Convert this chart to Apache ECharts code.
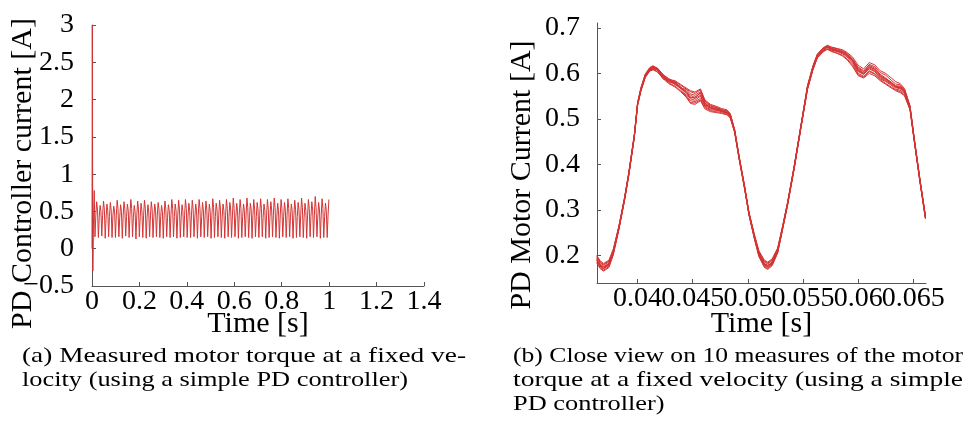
<!DOCTYPE html>
<html>
<head>
<meta charset="utf-8">
<script src="https://cdn.jsdelivr.net/npm/echarts@6/dist/echarts.min.js"></script>
<style>html,body{margin:0;padding:0;background:#fff;}#c{width:968px;height:436px;}</style>
</head>
<body>
<div id="c"></div>
<script>
// ---------- Panel (a): full run ----------
const leftHeadT = [0, 0.0012, 0.0035, 0.0065, 0.0095];
const leftHeadV = [0.0, 3.0, -0.3, 0.42, 0.78];
const leftBodyStart = 0.0125;
const leftBodyStep = 0.0036;
// groups of 4 per cycle: min, rise, peak, shoulder
const leftBodyV = [
0.16,0.44,0.63,0.52, 0.15,0.42,0.58,0.50, 0.17,0.45,0.64,0.53, 0.14,0.41,0.60,0.51,
0.16,0.43,0.62,0.52, 0.15,0.44,0.57,0.49, 0.15,0.45,0.65,0.54, 0.16,0.42,0.59,0.50,
0.14,0.44,0.63,0.53, 0.17,0.43,0.60,0.51, 0.15,0.45,0.66,0.54, 0.16,0.42,0.58,0.50,
0.13,0.44,0.64,0.53, 0.16,0.43,0.61,0.51, 0.15,0.45,0.65,0.54, 0.14,0.41,0.59,0.50,
0.16,0.44,0.63,0.52, 0.15,0.42,0.60,0.51, 0.16,0.45,0.62,0.53, 0.15,0.43,0.58,0.50,
0.14,0.44,0.64,0.53, 0.16,0.42,0.59,0.51, 0.15,0.45,0.66,0.54, 0.16,0.43,0.60,0.51,
0.14,0.44,0.65,0.53, 0.15,0.42,0.59,0.50, 0.16,0.45,0.66,0.54, 0.15,0.43,0.61,0.51,
0.15,0.44,0.65,0.53, 0.16,0.42,0.60,0.51, 0.14,0.45,0.66,0.54, 0.16,0.43,0.62,0.52,
0.15,0.44,0.64,0.53, 0.16,0.42,0.60,0.50, 0.14,0.45,0.67,0.55, 0.15,0.43,0.61,0.52,
0.16,0.44,0.65,0.53, 0.15,0.42,0.60,0.51, 0.14,0.45,0.66,0.54, 0.16,0.43,0.62,0.52,
0.15,0.44,0.68,0.54, 0.16,0.42,0.61,0.51, 0.14,0.45,0.66,0.54, 0.15,0.43,0.60,0.51,
0.16,0.45,0.68,0.55, 0.15,0.42,0.61,0.52, 0.14,0.44,0.66,0.53, 0.16,0.43,0.62,0.52,
0.15,0.45,0.67,0.54, 0.16,0.42,0.60,0.51, 0.14,0.44,0.66,0.53, 0.15,0.43,0.63,0.52,
0.16,0.45,0.68,0.55, 0.15,0.42,0.61,0.51, 0.14,0.44,0.66,0.54, 0.16,0.43,0.62,0.52,
0.15,0.45,0.67,0.54, 0.16,0.42,0.60,0.51, 0.14,0.44,0.65,0.53, 0.15,0.43,0.62,0.52,
0.16,0.45,0.68,0.55, 0.15,0.42,0.61,0.51, 0.14,0.44,0.66,0.54, 0.16,0.43,0.63,0.52,
0.15,0.45,0.70,0.55, 0.16,0.42,0.62,0.52, 0.14,0.44,0.67,0.54, 0.15,0.43,0.61,0.51,
0.15,0.44,0.66
];
const leftXTicks = [0, 1.4, 0.2];   // min, max, step
const leftYTicks = [-0.5, 3, 0.5];

// ---------- Panel (b): close view, 10 measures ----------
const rightT = [0.0363,0.0366,0.0369,0.0374,0.0378,0.0383,0.0388,0.0392,0.0397,0.0400,
0.0403,0.0407,0.0411,0.0414,0.0418,0.0423,0.0428,0.0434,0.0439,0.0444,
0.0448,0.0452,0.0457,0.0461,0.0466,0.0471,0.0476,0.0481,0.0484,0.0488,
0.0492,0.0497,0.0501,0.0506,0.0510,0.0515,0.0518,0.0522,0.0527,0.0531,
0.0536,0.0542,0.0548,0.0554,0.0559,0.0563,0.0568,0.0572,0.0576,0.0581,
0.0586,0.0590,0.0595,0.0600,0.0605,0.0610,0.0615,0.0620,0.0625,0.0630,
0.0634,0.0638,0.0642,0.0647,0.0651,0.0656,0.0661];
const measure1 = [0.193,0.181,0.175,0.182,0.208,0.260,0.322,0.379,0.462,0.533,0.565,0.595,0.609,0.613,0.607,0.592,0.583,0.577,0.569,0.560,0.548,0.545,0.552,0.532,0.524,0.522,0.518,0.515,0.508,0.474,0.416,0.350,0.292,0.240,0.204,0.182,0.178,0.185,0.211,0.255,0.314,0.394,0.482,0.569,0.613,0.639,0.652,0.658,0.654,0.650,0.646,0.640,0.628,0.608,0.600,0.612,0.606,0.592,0.586,0.578,0.570,0.568,0.560,0.525,0.452,0.365,0.284];
const measure2 = [0.188,0.176,0.170,0.178,0.205,0.258,0.320,0.377,0.460,0.531,0.562,0.592,0.606,0.609,0.611,0.596,0.586,0.580,0.566,0.552,0.540,0.538,0.545,0.528,0.520,0.519,0.516,0.512,0.505,0.472,0.414,0.348,0.290,0.237,0.200,0.177,0.173,0.181,0.208,0.253,0.312,0.392,0.480,0.566,0.610,0.635,0.648,0.654,0.651,0.648,0.643,0.636,0.622,0.600,0.594,0.606,0.600,0.588,0.582,0.574,0.566,0.563,0.556,0.522,0.450,0.363,0.282];
const measure3 = [0.198,0.186,0.180,0.187,0.212,0.263,0.324,0.381,0.464,0.535,0.568,0.598,0.612,0.616,0.612,0.598,0.588,0.575,0.568,0.565,0.555,0.552,0.560,0.538,0.528,0.525,0.520,0.518,0.510,0.476,0.418,0.352,0.294,0.243,0.208,0.187,0.183,0.190,0.215,0.258,0.316,0.396,0.484,0.572,0.616,0.642,0.655,0.661,0.657,0.654,0.650,0.644,0.632,0.614,0.606,0.618,0.612,0.598,0.590,0.580,0.573,0.572,0.563,0.528,0.454,0.367,0.286];
const measure4 = [0.185,0.173,0.167,0.175,0.203,0.257,0.319,0.376,0.459,0.530,0.563,0.593,0.607,0.610,0.604,0.592,0.580,0.572,0.562,0.550,0.536,0.535,0.542,0.525,0.518,0.516,0.514,0.510,0.503,0.471,0.413,0.347,0.289,0.236,0.198,0.175,0.171,0.179,0.206,0.252,0.311,0.391,0.479,0.565,0.609,0.636,0.649,0.654,0.649,0.645,0.640,0.632,0.618,0.597,0.592,0.604,0.598,0.586,0.578,0.570,0.564,0.560,0.553,0.521,0.449,0.362,0.281];
const measure5 = [0.196,0.184,0.178,0.185,0.210,0.262,0.323,0.380,0.463,0.534,0.566,0.596,0.610,0.614,0.608,0.588,0.584,0.582,0.574,0.566,0.560,0.556,0.564,0.540,0.530,0.526,0.521,0.517,0.511,0.475,0.417,0.351,0.293,0.242,0.206,0.185,0.181,0.188,0.213,0.257,0.315,0.395,0.483,0.570,0.614,0.640,0.653,0.659,0.655,0.652,0.648,0.642,0.630,0.612,0.604,0.620,0.615,0.602,0.596,0.585,0.577,0.575,0.565,0.527,0.453,0.366,0.285];
const measure6 = [0.190,0.178,0.172,0.180,0.207,0.259,0.321,0.378,0.461,0.532,0.564,0.594,0.608,0.611,0.608,0.594,0.585,0.579,0.571,0.558,0.546,0.548,0.556,0.535,0.526,0.523,0.519,0.514,0.507,0.473,0.415,0.349,0.291,0.239,0.202,0.180,0.176,0.183,0.210,0.254,0.313,0.393,0.481,0.568,0.612,0.638,0.651,0.657,0.652,0.649,0.645,0.638,0.625,0.604,0.598,0.610,0.604,0.590,0.584,0.576,0.569,0.566,0.558,0.524,0.451,0.364,0.283];
const measure7 = [0.200,0.188,0.182,0.189,0.214,0.264,0.325,0.382,0.465,0.536,0.569,0.599,0.613,0.617,0.610,0.591,0.587,0.584,0.576,0.568,0.562,0.559,0.566,0.542,0.532,0.528,0.523,0.520,0.512,0.477,0.419,0.353,0.295,0.245,0.210,0.189,0.185,0.192,0.216,0.259,0.317,0.397,0.485,0.573,0.617,0.643,0.656,0.662,0.658,0.655,0.652,0.646,0.636,0.618,0.610,0.624,0.619,0.606,0.600,0.590,0.582,0.578,0.567,0.529,0.455,0.368,0.287];
const measure8 = [0.183,0.171,0.165,0.173,0.201,0.256,0.318,0.375,0.458,0.529,0.561,0.591,0.605,0.608,0.603,0.589,0.578,0.570,0.560,0.548,0.534,0.532,0.540,0.522,0.516,0.514,0.512,0.509,0.502,0.470,0.412,0.346,0.288,0.235,0.197,0.173,0.169,0.177,0.205,0.251,0.310,0.390,0.478,0.564,0.608,0.634,0.647,0.653,0.648,0.644,0.638,0.630,0.615,0.595,0.590,0.600,0.595,0.584,0.576,0.568,0.562,0.558,0.551,0.520,0.448,0.361,0.280];
const measure9 = [0.192,0.180,0.174,0.181,0.208,0.260,0.322,0.379,0.462,0.533,0.565,0.595,0.609,0.614,0.611,0.597,0.589,0.581,0.569,0.556,0.544,0.541,0.550,0.530,0.522,0.521,0.517,0.513,0.506,0.474,0.416,0.350,0.292,0.240,0.203,0.181,0.177,0.184,0.211,0.255,0.314,0.394,0.482,0.569,0.613,0.639,0.653,0.660,0.655,0.651,0.647,0.641,0.628,0.606,0.599,0.614,0.610,0.596,0.588,0.579,0.571,0.569,0.561,0.525,0.452,0.365,0.284];
const measure10 = [0.189,0.177,0.171,0.179,0.206,0.259,0.321,0.378,0.461,0.532,0.564,0.594,0.608,0.613,0.609,0.593,0.582,0.577,0.567,0.562,0.552,0.547,0.558,0.534,0.525,0.520,0.517,0.514,0.508,0.473,0.415,0.349,0.291,0.239,0.202,0.179,0.175,0.182,0.209,0.254,0.313,0.393,0.481,0.567,0.611,0.638,0.652,0.658,0.653,0.650,0.647,0.641,0.631,0.610,0.601,0.616,0.608,0.594,0.588,0.581,0.572,0.570,0.562,0.524,0.451,0.364,0.283];
const rightXTickValues = [0.04, 0.045, 0.05, 0.055, 0.06, 0.065];
const rightYTickValues = [0.2, 0.3, 0.4, 0.5, 0.6, 0.7];
const rightXRange = [0.03632, 0.06615];
const rightYRange = [0.139, 0.711];

// ---------- Texts ----------
const yNameA = 'PD Controller current [A]';
const yNameB = 'PD Motor Current [A]';
const xName = 'Time [s]';
const captionA = ['(a) Measured motor torque at a fixed ve-', 'locity (using a simple PD controller)'];
const captionB = ['(b) Close view on 10 measures of the motor', 'torque at a fixed velocity (using a simple', 'PD controller)'];

// ---------- Build ----------
const FONT = '"Liberation Serif", "Times New Roman", serif';
const RED = '#d33434';
const AX = '#555555';

const leftData = [];
leftHeadT.forEach((t, i) => leftData.push([t, leftHeadV[i]]));
leftBodyV.forEach((v, i) => leftData.push([leftBodyStart + i * leftBodyStep, v]));

const measures = [measure1, measure2, measure3, measure4, measure5, measure6, measure7, measure8, measure9, measure10];

function fmt(v) { return String(+v.toFixed(4)).replace('-', '\u2212'); }

function axisCommon() {
  return {
    axisLine: { show: true, onZero: false, lineStyle: { color: AX, width: 1 } },
    axisTick: { show: true, inside: true, length: 4, lineStyle: { color: AX } },
    splitLine: { show: false },
    axisLabel: { color: '#000', fontFamily: FONT, fontSize: 28, formatter: fmt, showMinLabel: true, showMaxLabel: true, hideOverlap: false },
    nameMoveOverlap: false,
    nameTextStyle: { color: '#000', fontFamily: FONT, fontSize: 30 }
  };
}

const xA = Object.assign(axisCommon(), {
  type: 'value', gridIndex: 0, min: leftXTicks[0], max: leftXTicks[1], interval: leftXTicks[2],
  name: xName, nameLocation: 'middle', nameGap: 23
});
xA.axisLabel.margin = 2;
const yA = Object.assign(axisCommon(), {
  type: 'value', gridIndex: 0, min: leftYTicks[0], max: leftYTicks[1], interval: leftYTicks[2],
  name: yNameA, nameLocation: 'middle', nameGap: 54
});
yA.axisLabel.margin = 18;
yA.axisLabel.padding = [0, 0, 8, 0];
yA.nameTextStyle.padding = [0, 36, 0, 0];

// right x axis: labels split over two coincident axes so that touching labels all stay visible
const xBTicksA = rightXTickValues.filter((v, i) => i % 2 === 0);
const xBTicksB = rightXTickValues.filter((v, i) => i % 2 === 1);
const xB = Object.assign(axisCommon(), {
  type: 'value', gridIndex: 1, min: rightXRange[0], max: rightXRange[1],
  name: xName, nameLocation: 'middle', nameGap: 26
});
xB.axisLabel.margin = 2;
xB.axisLabel.customValues = xBTicksA;
xB.axisTick.customValues = rightXTickValues;
const xB2 = Object.assign(axisCommon(), {
  type: 'value', gridIndex: 1, min: rightXRange[0], max: rightXRange[1], position: 'bottom', offset: 0
});
xB2.axisLine.show = false;
xB2.axisTick.show = false;
xB2.axisLabel.margin = 2;
xB2.axisLabel.customValues = xBTicksB;

const yB = Object.assign(axisCommon(), {
  type: 'value', gridIndex: 1, min: rightYRange[0], max: rightYRange[1],
  name: yNameB, nameLocation: 'middle', nameGap: 60
});
yB.axisLabel.margin = 17;
yB.axisLabel.padding = [0, 0, 6, 0];
yB.axisLabel.customValues = rightYTickValues;
yB.axisTick.customValues = rightYTickValues;
yB.nameTextStyle.padding = [0, 44, 0, 0];

const series = [{
  type: 'line', xAxisIndex: 0, yAxisIndex: 0, data: leftData, showSymbol: false,
  lineStyle: { color: RED, width: 1 }, itemStyle: { color: RED }, animation: false, silent: true
}];
measures.forEach((m, k) => {
  series.push({
    type: 'line', name: 'measure ' + (k + 1), xAxisIndex: 1, yAxisIndex: 1,
    data: rightT.map((t, i) => [t, m[i]]), showSymbol: false,
    lineStyle: { color: RED, width: 1 }, itemStyle: { color: RED }, animation: false, silent: true
  });
});

// caption scaling to match justified LaTeX lines
const CFONT = '22px "Liberation Serif"';
const ctx = document.createElement('canvas').getContext('2d');
ctx.font = CFONT;
function w(t) { return ctx.measureText(t).width; }
const natScale = 386 / w(captionA[1]);
const captionLines = [
  { text: captionA[0], x: 22, y: 356, s: 444 / w(captionA[0]) },
  { text: captionA[1], x: 22, y: 380, s: natScale },
  { text: captionB[0], x: 513, y: 356, s: 450 / w(captionB[0]) },
  { text: captionB[1], x: 513, y: 380, s: 450 / w(captionB[1]) },
  { text: captionB[2], x: 513, y: 404, s: natScale }
];
const graphics = captionLines.map(c => ({
  type: 'text', x: c.x, y: c.y, scaleX: c.s, silent: true,
  style: { text: c.text, font: CFONT, fill: '#000', align: 'left', verticalAlign: 'middle' }
}));

const chart = echarts.init(document.getElementById('c'), null, { renderer: 'canvas' });
chart.setOption({
  animation: false,
  backgroundColor: '#fff',
  grid: [
    { left: 92, top: 25, width: 332, height: 261, outerBoundsMode: 'none', containLabel: false },
    { left: 597, top: 23, width: 329, height: 260, outerBoundsMode: 'none', containLabel: false }
  ],
  xAxis: [xA, xB, xB2],
  yAxis: [yA, yB],
  series: series,
  graphic: graphics
});
</script>
</body>
</html>
